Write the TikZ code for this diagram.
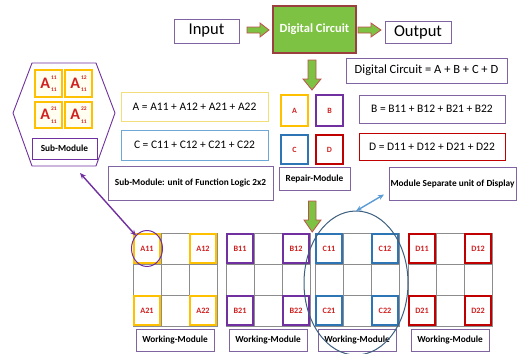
\documentclass[tikz,border=0pt]{standalone}
\usepackage{fontspec}
\setmainfont{Carlito}
\usetikzlibrary{shapes.geometric,arrows.meta}

\definecolor{boxline}{HTML}{8064A2}
\definecolor{goldline}{HTML}{FFC000}
\definecolor{paleyellow}{HTML}{F2DF7A}
\definecolor{modpurple}{HTML}{7030A0}
\definecolor{modblue}{HTML}{2E75B6}
\definecolor{paleblue}{HTML}{6FA8D6}
\definecolor{modred}{HTML}{C00000}
\definecolor{labred}{HTML}{D02020}
\definecolor{circgreen}{HTML}{7DC242}
\definecolor{arrowedge}{HTML}{C0504D}
\definecolor{gridgray}{HTML}{8C8C8C}
\definecolor{ringblue}{HTML}{3E5F80}
\definecolor{linkblue}{HTML}{5B9BD5}

% tile letter with stacked upper and lower indices
\newcommand{\idxA}[2]{A\hspace{1.2pt}\makebox[0pt][l]{\raisebox{9pt}{\fontsize{5.5}{5.5}\selectfont #1}}\raisebox{-3.5pt}{\fontsize{5.5}{5.5}\selectfont #2}}

\tikzset{
  x=1pt, y=-1pt,
  every node/.style={inner sep=0pt, outer sep=0pt},
  framebox/.style={draw=boxline, line width=0.9pt, fill=white, text=black},
  titlebox/.style={framebox, font=\fontsize{16.5}{17}\selectfont},
  eqbox/.style={framebox, font=\fontsize{11.5}{12}\selectfont},
  tagbox/.style={framebox, font=\bfseries\fontsize{9.3}{10}\selectfont},
  tile/.style={draw=#1, line width=1.6pt, fill=white, text=labred,
               font=\bfseries\fontsize{8}{9}\selectfont,
               minimum width=27pt, minimum height=29pt},
  subtile/.style={draw=goldline, line width=1.4pt, fill=yellow!6, text=labred,
               font=\bfseries\fontsize{16}{16}\selectfont,
               minimum width=27pt, minimum height=27pt},
  blockarrow/.style={fill=circgreen, draw=arrowedge, line width=0.8pt, line join=miter},
  gridline/.style={draw=gridgray, line width=0.6pt},
  cornercell/.style={draw=#1, line width=1.8pt, fill=white, text=labred,
               font=\bfseries\fontsize{8.2}{9}\selectfont,
               minimum width=26pt, minimum height=29pt},
}

\begin{document}
\begin{tikzpicture}
\useasboundingbox (0,0) rectangle (523,354);

% ---------- top chain ----------
\node[titlebox, minimum width=65pt, minimum height=24pt] (in) at (206.5,31) {Input};
\node[draw=arrowedge!80!black, line width=1.4pt, fill=circgreen, text=white,
      font=\bfseries\fontsize{12.5}{13}\selectfont,
      minimum width=83pt, minimum height=47pt] (dc) at (314.5,29.5) {Digital Circuit};
\node[titlebox, minimum width=66pt, minimum height=22pt] (out) at (418,32) {Output};

% block arrows
\draw[blockarrow] (247,27) -- (260,27) -- (260,23) -- (269,30) -- (260,37) -- (260,33) -- (247,33) -- cycle;
\draw[blockarrow] (358,27) -- (371,27) -- (371,23) -- (381,30) -- (371,37) -- (371,33) -- (358,33) -- cycle;
\draw[blockarrow] (308,60) -- (316,60) -- (316,79) -- (321,79) -- (312,90) -- (303,79) -- (308,79) -- cycle;
\draw[blockarrow] (308.5,201) -- (316,201) -- (316,220) -- (321,220) -- (312.2,232) -- (304,220) -- (308.5,220) -- cycle;

% ---------- equations ----------
\node[eqbox, font=\fontsize{12.5}{13}\selectfont, minimum width=161pt, minimum height=25pt] (dceq) at (426.5,70.5) {Digital Circuit = A + B + C + D};
\node[eqbox, minimum width=146pt, minimum height=28pt] (beq) at (432,109) {B = B11 + B12 + B21 + B22};
\node[eqbox, draw=modred, minimum width=146pt, minimum height=27pt] (deq) at (432,146.5) {D = D11 + D12 + D21 + D22};
\node[eqbox, draw=paleyellow, minimum width=147pt, minimum height=29pt] (aeq) at (194.5,106.5) {A = A11 + A12 + A21 + A22};
\node[eqbox, draw=paleblue, minimum width=147pt, minimum height=30pt] (ceq) at (194.5,145) {C = C11 + C12 + C21 + C22};
\node[tagbox, minimum width=165pt, minimum height=34pt] (unit) at (190.5,183)
  {Sub-Module: unit of Function Logic 2x2};
\node[tagbox, minimum width=127pt, minimum height=33pt] (sep) at (452.5,183.5)
  {Module Separate unit of Display};

% ---------- repair module ----------
\node[tile=goldline, minimum height=31pt] (ra) at (294.5,110.5) {A};
\node[tile=modpurple, minimum height=31pt] (rb) at (329.5,110.5) {B};
\node[tile=modblue] (rc) at (294.5,149.5) {C};
\node[tile=modred] (rd) at (329.5,149.5) {D};
\node[tagbox, minimum width=71pt, minimum height=23pt] (rlab) at (314.5,178.5) {Repair-Module};

% ---------- sub-module hexagon ----------
\draw[draw=modpurple, line width=0.9pt] (32,63) -- (96,63) -- (115,113) -- (96,166) -- (32,166) -- (13,113) -- cycle;
\node[subtile] (s11) at (48.5,83.5) {\idxA{11}{11}};
\node[subtile] (s12) at (78.5,83.5) {\idxA{12}{11}};
\node[subtile, minimum height=26pt] (s21) at (48.5,115) {\idxA{21}{11}};
\node[subtile, minimum height=26pt] (s22) at (78.5,115) {\idxA{22}{11}};
\node[tagbox, draw=modpurple, minimum width=65pt, minimum height=21pt] (slab) at (64.5,148.5) {Sub-Module};

% ---------- working modules ----------
\foreach \gx/\ltr/\col [count=\k] in {133/A/goldline, 226/B/modpurple, 315/C/modblue, 408/D/modred} {
  \foreach \i in {0,1,2} \foreach \j in {0,1,2}
    \draw[gridline] (\gx+28*\i,233+31*\j) rectangle (\gx+28*\i+28,233+31*\j+31);
  \node[cornercell=\col] (\ltr11) at (\gx+14,248.5) {\ltr11};
  \node[cornercell=\col] (\ltr12) at (\gx+70,248.5) {\ltr12};
  \node[cornercell=\col] (\ltr21) at (\gx+14,310.5) {\ltr21};
  \node[cornercell=\col] (\ltr22) at (\gx+70,310.5) {\ltr22};
  \node[tagbox, minimum width=78pt, minimum height=22pt] (wm\k) at (\gx+42,340.5) {Working-Module};
}

% ---------- highlights and links ----------
\node[draw=modpurple, line width=1pt, ellipse, minimum width=31pt, minimum height=36pt] (ring) at (A11) {};
\node[draw=ringblue, line width=1pt, ellipse, minimum width=104pt, minimum height=144pt] (bigring) at (356,283) {};
\coordinate (subtail) at (80,173);
\draw[modpurple, line width=1.4pt, {Stealth[length=6pt,width=5pt]}-{Stealth[length=6pt,width=5pt]}]
  (subtail) -- (ring.north west);
\coordinate (sephead) at (384,194.5);
\draw[linkblue, line width=1.4pt, {Stealth[length=6pt,width=5pt]}-{Stealth[length=6pt,width=5pt]}]
  (bigring.north) -- (sephead);
\end{tikzpicture}
\end{document}
